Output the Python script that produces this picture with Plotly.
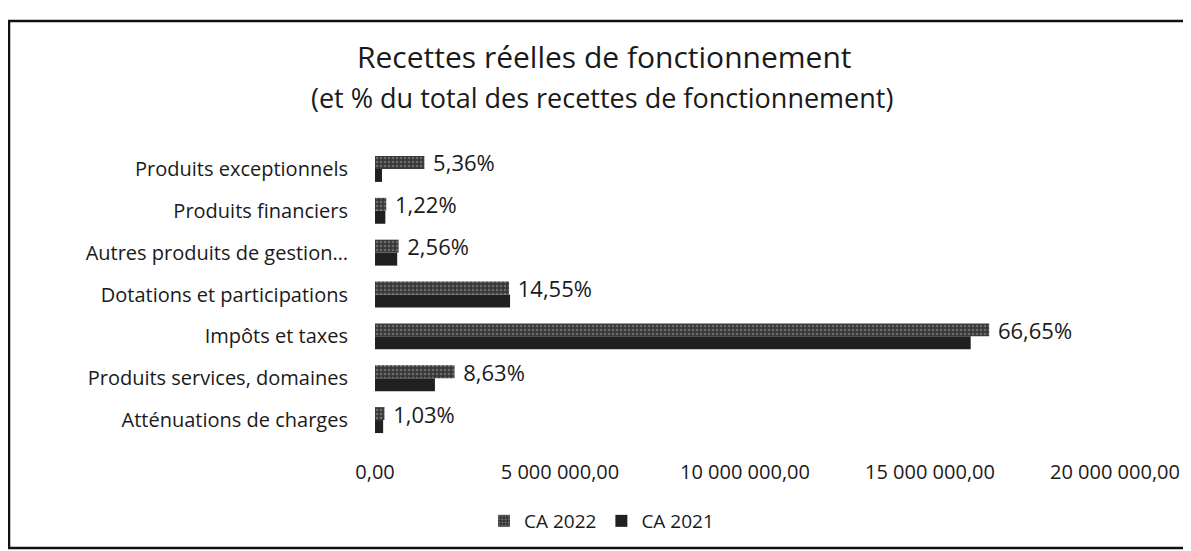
"""
Recettes réelles de fonctionnement : barres horizontales CA 2022 / CA 2021.
"""

import plotly.graph_objects as go

# catégories de bas en haut (ordre de l'axe)
categories = [
    "Atténuations de charges",
    "Produits services, domaines",
    "Impôts et taxes",
    "Dotations et participations",
    "Autres produits de gestion…",
    "Produits financiers",
    "Produits exceptionnels",
]
ca_2022 = [256000, 2149000, 16600000, 3623000, 637000, 304000, 1335000]
ca_2021 = [220000, 1620000, 16100000, 3650000, 600000, 280000, 190000]
pourcentages = ["1,03%", "8,63%", "66,65%", "14,55%", "2,56%", "1,22%", "5,36%"]

tick_vals = [0, 5000000, 10000000, 15000000, 20000000]
tick_labels = ["0,00", "5 000 000,00", "10 000 000,00", "15 000 000,00", "20 000 000,00"]

POLICE = "Open Sans"
NOIR = "#1a1a1a"
# la page ajoute 8 px de marge autour de la figure
W, H = 1183, 543
M_G, M_D, M_H, M_B = 367, 76, 140, 110
PW, PH = W - M_G - M_D, H - M_H - M_B


def px_x(x):
    return (x - M_G) / PW


def px_y(y):
    return (H - M_B - y) / PH


fig = go.Figure()
# CA 2021 en premier : barre du bas dans chaque groupe
fig.add_trace(go.Bar(
    y=categories, x=ca_2021, orientation="h", name="CA 2021",
    marker={"color": "#202020", "line": {"width": 0}}, legendrank=2,
))
fig.add_trace(go.Bar(
    y=categories, x=ca_2022, orientation="h", name="CA 2022",
    marker={"color": "#383838", "line": {"width": 0},
            "pattern": {"shape": ".", "fgcolor": "#a0a0a0", "size": 4, "solidity": 0.3}},
    text=pourcentages, texttemplate=" %{text}", textposition="outside",
    constraintext="none", cliponaxis=False,
    textfont={"size": 22, "color": NOIR, "family": POLICE},
    legendrank=1,
))

# cadre du graphique
fig.add_shape(
    type="rect", xref="paper", yref="paper",
    x0=px_x(1), x1=px_x(W + 4), y0=px_y(540), y1=px_y(13),
    line={"color": "#111111", "width": 2.5}, fillcolor="rgba(0,0,0,0)", layer="below",
)

# titre et sous-titre
fig.add_annotation(
    text="Recettes réelles de fonctionnement", xref="paper", yref="paper",
    x=px_x(596), y=px_y(48), xanchor="center", yanchor="middle", showarrow=False,
    font={"size": 30, "family": POLICE, "color": NOIR},
)
fig.add_annotation(
    text="(et % du total des recettes de fonctionnement)", xref="paper", yref="paper",
    x=px_x(594), y=px_y(89), xanchor="center", yanchor="middle", showarrow=False,
    font={"size": 27, "family": POLICE, "color": NOIR},
)

fig.update_layout(
    width=W, height=H,
    margin=dict(l=M_G, r=M_D, t=M_H, b=M_B, autoexpand=False),
    paper_bgcolor="white", plot_bgcolor="white",
    font={"family": POLICE, "color": NOIR, "size": 19},
    barmode="group", bargap=0.38, bargroupgap=0,
    xaxis={
        "range": [0, 20000000], "tickvals": tick_vals, "ticktext": tick_labels,
        "showgrid": False, "zeroline": False, "showline": False,
        "ticklabelstandoff": 17, "tickfont": {"size": 20},
    },
    yaxis={
        "showgrid": False, "showline": False, "zeroline": False,
        "ticklabelstandoff": 26, "tickfont": {"size": 20},
    },
    legend={
        "orientation": "h", "x": px_x(476), "xanchor": "left",
        "y": px_y(513), "yanchor": "middle",
        "font": {"size": 19}, "itemwidth": 30,
    },
    showlegend=True,
)

fig.write_html("out.html")
